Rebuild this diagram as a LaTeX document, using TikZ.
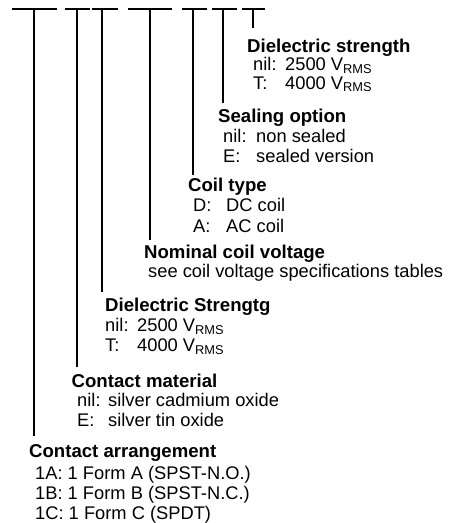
\documentclass[tikz,border=0pt]{standalone}
\usepackage{fontspec}
\setmainfont{Liberation Sans}

\begin{document}
\begin{tikzpicture}[x=1pt, y=-1pt,
  bar/.style={line width=1.8pt},
  head/.style={anchor=base west, inner sep=0pt, font=\fontsize{18.6}{20}\selectfont\bfseries},
  opt/.style={anchor=base west, inner sep=0pt, font=\fontsize{18.3}{20}\selectfont}]
\useasboundingbox (0,0) rectangle (456,523);

% Top bars
\coordinate (l1) at (12,9);  \coordinate (r1) at (57,9);
\coordinate (l2) at (65,9);  \coordinate (r2) at (90,9);
\coordinate (l3) at (92,9);  \coordinate (r3) at (118,9);
\coordinate (l4) at (128,9); \coordinate (r4) at (172,9);
\coordinate (l5) at (182,9); \coordinate (r5) at (207,9);
\coordinate (l6) at (212,9); \coordinate (r6) at (237,9);
\coordinate (l7) at (242,9); \coordinate (r7) at (265,9);
\draw[bar] (l1) -- (r1);
\draw[bar] (l2) -- (r2);
\draw[bar] (l3) -- (r3);
\draw[bar] (l4) -- (r4);
\draw[bar] (l5) -- (r5);
\draw[bar] (l6) -- (r6);
\draw[bar] (l7) -- (r7);

% Stems
\coordinate (t1) at (34,9);  \coordinate (e1) at (34,436);
\coordinate (t2) at (77,9);  \coordinate (e2) at (77,367);
\coordinate (t3) at (102,9); \coordinate (e3) at (102,292);
\coordinate (t4) at (150,9); \coordinate (e4) at (150,240);
\coordinate (t5) at (193,9); \coordinate (e5) at (193,175);
\coordinate (t6) at (223,9); \coordinate (e6) at (223,103);
\coordinate (t7) at (253,9); \coordinate (e7) at (253,28);
\draw[bar] (t1) -- (e1);
\draw[bar] (t2) -- (e2);
\draw[bar] (t3) -- (e3);
\draw[bar] (t4) -- (e4);
\draw[bar] (t5) -- (e5);
\draw[bar] (t6) -- (e6);
\draw[bar] (t7) -- (e7);

% Dielectric strength
\node[head] (h7) at (247,52.5) {Dielectric strength};
\node[opt] (k7a) at (253,70.5) {nil:};
\node[opt] (v7a) at (285,70.5) {2500 V\textsubscript{RMS}};
\node[opt] (k7b) at (253,89) {T:};
\node[opt] (v7b) at (285,89) {4000 V\textsubscript{RMS}};

% Sealing option
\node[head] (h6) at (218,122) {Sealing option};
\node[opt] (k6a) at (223,142) {nil:};
\node[opt] (v6a) at (256,142) {non sealed};
\node[opt] (k6b) at (223,162.5) {E:};
\node[opt] (v6b) at (256,162.5) {sealed version};

% Coil type
\node[head] (h5) at (188,191) {Coil type};
\node[opt] (k5a) at (193,211.5) {D:};
\node[opt] (v5a) at (226,211.5) {DC coil};
\node[opt] (k5b) at (193,232) {A:};
\node[opt] (v5b) at (226,232) {AC coil};

% Nominal coil voltage
\node[head] (h4) at (144,258) {Nominal coil voltage};
\node[opt] (k4a) at (148,277) {see coil voltage specifications tables};

% Dielectric Strengtg
\node[head] (h3) at (105,311.5) {Dielectric Strengtg};
\node[opt] (k3a) at (105,331.5) {nil:};
\node[opt] (v3a) at (137,331.5) {2500 V\textsubscript{RMS}};
\node[opt] (k3b) at (105,351.5) {T:};
\node[opt] (v3b) at (137,351.5) {4000 V\textsubscript{RMS}};

% Contact material
\node[head] (h2) at (71.5,387) {Contact material};
\node[opt] (k2a) at (77,406.5) {nil:};
\node[opt] (v2a) at (108,406.5) {silver cadmium oxide};
\node[opt] (k2b) at (77,426.5) {E:};
\node[opt] (v2b) at (108,426.5) {silver tin oxide};

% Contact arrangement
\node[head] (h1) at (29,457.5) {Contact arrangement};
\node[opt] (k1a) at (35,479.5) {1A: 1 Form A (SPST-N.O.)};
\node[opt] (k1b) at (35,499.5) {1B: 1 Form B (SPST-N.C.)};
\node[opt] (k1c) at (35,519.5) {1C: 1 Form C (SPDT)};
\end{tikzpicture}
\end{document}
